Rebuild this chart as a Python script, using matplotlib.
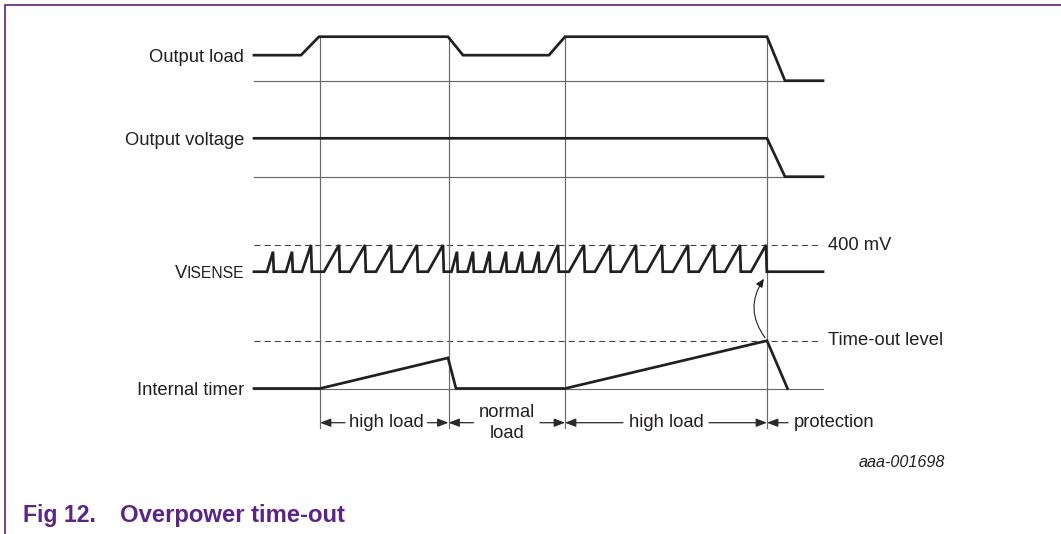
import matplotlib
matplotlib.use("Agg")
import matplotlib.pyplot as plt
from matplotlib.patches import FancyArrowPatch

plt.rcParams['font.family'] = ['Liberation Sans', 'DejaVu Sans']
plt.rcParams['lines.scale_dashes'] = False

# time axis = horizontal position
t_start, t_end = 254, 823
phase_edges = [320, 448.5, 565, 767]
phase_labels = ["high load", "normal\nload", "high load", "protection"]

# output load (0 = none, 1 = high load)
load_t = [254, 301, 319, 448, 463, 549, 565, 767, 785, 823]
load_level = [0.58, 0.58, 1, 1, 0.58, 0.58, 1, 1, 0, 0]

# output voltage (1 = nominal)
vout_t = [254, 767, 785, 823]
vout_level = [1, 1, 0, 0]

# V_ISENSE sawtooth: peak times, peak values (mV) and ramp widths
isense_peak_t = [273, 292, 311,
                 339, 365, 391, 417, 443,
                 457, 473, 489.5, 506, 522, 538.5, 558,
                 584, 610, 636, 662, 688, 714, 740, 766]
isense_peak_mv = [300, 300, 400,
                  400, 400, 400, 400, 400,
                  300, 300, 300, 300, 300, 300, 400,
                  400, 400, 400, 400, 400, 400, 400, 400]
isense_ramp = [6, 6, 9,
               15, 15, 15, 15, 15,
               5.5, 5.5, 5.5, 5.5, 5.5, 5.5, 12,
               15, 15, 15, 15, 15, 15, 15, 15]
isense_limit_mv = 400

# internal timer (1 = time-out level)
timer_t = [254, 320, 448, 456, 565, 767, 787.5]
timer_level = [0, 0, 0.64, 0, 0, 1, 0]

# row layout: baseline y (px) and px per unit
rows = {
    "load": (80.7, 44.0),
    "vout": (176.7, 38.4),
    "isense": (271.7, 26.7 / isense_limit_mv),
    "timer": (388.5, 47.8),
}

ink = '#231f20'
grey = '#6a6a6a'
purple = '#5c2483'
thick = 1.95
thin = 0.85

fig = plt.figure(figsize=(10.61, 5.34), dpi=100)
ax = fig.add_axes([0, 0, 1, 1])
ax.set_xlim(0, 1061)
ax.set_ylim(534, 0)
ax.axis('off')


def ypos(row, vals):
    base, scale = rows[row]
    return [base - v * scale for v in vals]


# thin baselines
for row in ["load", "vout", "timer"]:
    ax.plot([t_start, t_end], ypos(row, [0, 0]), color=grey, lw=thin)

# dashed reference levels
dash = (0, (4.3, 3.0))
ax.plot([t_start, t_end - 1], ypos("isense", [isense_limit_mv] * 2),
        color='#444444', lw=0.8, linestyle=dash)
ax.plot([t_start, t_end - 1], ypos("timer", [1, 1]),
        color='#444444', lw=0.8, linestyle=dash)

# phase boundaries
top_y = ypos("load", [1])[0]
for x in phase_edges:
    ax.plot([x, x], [top_y, 428], color=grey, lw=thin)

# signals
ax.plot(load_t, ypos("load", load_level), color=ink, lw=thick,
        solid_joinstyle='miter')
ax.plot(vout_t, ypos("vout", vout_level), color=ink, lw=thick,
        solid_joinstyle='miter')

saw_t = [t_start]
saw_v = [0]
for pk, mv, rw in zip(isense_peak_t, isense_peak_mv, isense_ramp):
    saw_t += [pk - rw, pk, pk + 0.8]
    saw_v += [0, mv, 0]
saw_t.append(t_end)
saw_v.append(0)
ax.plot(saw_t, ypos("isense", saw_v), color=ink, lw=thick,
        solid_joinstyle='miter')

ax.plot(timer_t, ypos("timer", timer_level), color=ink, lw=thick,
        solid_joinstyle='miter')

# row labels
fs = 13.2
half_cap = 6.6
ax.text(244, rows["load"][0] - 0.58 * rows["load"][1] + half_cap, "Output load",
        ha='right', va='baseline', fontsize=fs, color=ink)
ax.text(244, ypos("vout", [1])[0] + half_cap, "Output voltage",
        ha='right', va='baseline', fontsize=fs, color=ink)
sub = ax.text(244, rows["isense"][0] + 5.8, "ISENSE",
              ha='right', va='baseline', fontsize=11.3, color=ink)
ax.annotate("V", xy=(0, 0), xycoords=sub, xytext=(0.5, 1.6),
            textcoords='offset points', ha='right', va='baseline',
            fontsize=fs, color=ink)
ax.text(244, rows["timer"][0] + half_cap, "Internal timer",
        ha='right', va='baseline', fontsize=fs, color=ink)

# right-hand level labels
ax.text(828, ypos("isense", [isense_limit_mv])[0], "400 mV",
        ha='left', va='center', fontsize=fs, color=ink)
ax.text(828, ypos("timer", [1])[0], "Time-out level",
        ha='left', va='center', fontsize=fs, color=ink)

# curved arrow timer -> V_ISENSE
arr = FancyArrowPatch((765, ypos("timer", [1])[0] - 3), (764, rows["isense"][0] + 7),
                      connectionstyle="arc3,rad=-0.35",
                      arrowstyle='-|>,head_length=5,head_width=2.2',
                      color=ink, lw=0.8, shrinkA=0, shrinkB=0)
ax.add_patch(arr)

# phase arrows below
arrow_y = 422.7
astyle = dict(arrowstyle='-|>,head_length=0.65,head_width=0.25', lw=0.9,
              color='#2a2a2a', shrinkA=0, shrinkB=0)
inner_gaps = [(345, 427.5), (473.5, 540), (623, 709)]
for i, (a, b) in enumerate(inner_gaps):
    left, right = phase_edges[i], phase_edges[i + 1]
    ax.annotate('', xy=(left, arrow_y), xytext=(a, arrow_y), arrowprops=astyle)
    ax.annotate('', xy=(right, arrow_y), xytext=(b, arrow_y), arrowprops=astyle)
    ax.text((a + b) / 2, arrow_y, phase_labels[i], ha='center', va='center',
            fontsize=fs, color=ink, linespacing=1.3)
ax.annotate('', xy=(phase_edges[3], arrow_y), xytext=(788, arrow_y), arrowprops=astyle)
ax.text(794, arrow_y, phase_labels[3], ha='left', va='center', fontsize=fs, color=ink)

# figure id and caption
ax.text(945, 462.7, "aaa-001698", ha='right', va='center', fontsize=11.6,
        style='italic', color=ink)
ax.text(23, 521.7, "Fig 12.", ha='left', va='baseline', fontsize=16.6,
        fontweight='bold', color=purple)
ax.text(120, 521.7, "Overpower time-out", ha='left', va='baseline', fontsize=17.2,
        fontweight='bold', color=purple)

# frame
ax.plot([5, 5, 1061], [534, 4.5, 4.5], color=purple, lw=1.2,
        solid_joinstyle='miter', clip_on=False)

fig.savefig('out.png', dpi=100)
plt.close(fig)
